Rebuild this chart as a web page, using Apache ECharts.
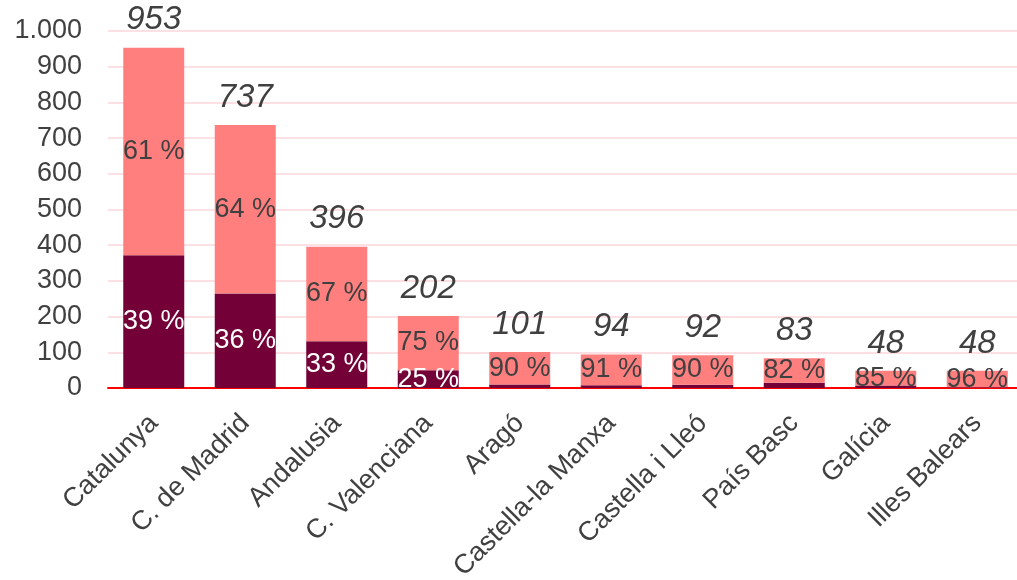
<!DOCTYPE html>
<html>
<head>
<meta charset="utf-8">
<script src="https://cdn.jsdelivr.net/npm/echarts@6/dist/echarts.min.js"></script>
<style>
  html, body { margin: 0; padding: 0; background: #fff; }
  #chart { width: 1017px; height: 580px; }
</style>
</head>
<body>
<div id="chart"></div>
<script>
// comunitats
const regions = ["Catalunya", "C. de Madrid", "Andalusia", "C. Valenciana", "Aragó",
  "Castella-la Manxa", "Castella i Lleó", "País Basc", "Galícia", "Illes Balears"];
const totals = [953, 737, 396, 202, 101, 94, 92, 83, 48, 48];
// part fosca (a baix) i part clara (a dalt)
const darkValues = [372, 265, 131, 50, 10, 8, 9, 15, 7, 2];
const lightValues = [581, 472, 265, 152, 91, 86, 83, 68, 41, 46];
const darkPct = [39, 36, 33, 25, 10, 9, 10, 18, 15, 4];
const lightPct = [61, 64, 67, 75, 90, 91, 90, 82, 85, 96];
const yTicks = [0, 100, 200, 300, 400, 500, 600, 700, 800, 900, 1000];

const chart = echarts.init(document.getElementById("chart"));
const font = "Liberation Sans, Arial, Helvetica, sans-serif";

const option = {
  animation: false,
  textStyle: { fontFamily: font },
  grid: { left: 108, top: 31, width: 915, height: 357, outerBoundsMode: "none", containLabel: false },
  xAxis: {
    type: "category",
    data: regions,
    axisLine: { lineStyle: { color: "#ff0000", width: 2 } },
    axisTick: { show: false },
    axisLabel: { rotate: 45, fontSize: 27, color: "#404040", margin: 31, interval: 0 },
  },
  yAxis: {
    type: "value",
    min: yTicks[0],
    max: yTicks[yTicks.length - 1],
    interval: 100,
    axisLine: { show: false },
    axisTick: { show: false },
    splitLine: { lineStyle: { color: "#fde0e4", width: 2 } },
    axisLabel: {
      fontSize: 27,
      color: "#404040",
      margin: 26,
      formatter: (v) => v.toLocaleString("de-DE"),
    },
  },
  series: [
    {
      // totals (invisible bar, label above)
      type: "bar",
      data: totals,
      barWidth: 61,
      barGap: "-100%",
      z: 1,
      itemStyle: { color: "rgba(0,0,0,0)" },
      label: {
        show: true,
        position: "top",
        distance: 11,
        fontSize: 33,
        fontStyle: "italic",
        color: "#404040",
      },
    },
    {
      type: "bar",
      stack: "total",
      barWidth: 61,
      z: 2,
      data: darkValues.map((v, i) => ({
        value: v,
        label: { show: i < 4 },
      })),
      itemStyle: { color: "#730037" },
      label: {
        position: "inside",
        fontSize: 27,
        color: "#ffffff",
        formatter: (p) => darkPct[p.dataIndex] + " %",
      },
    },
    {
      type: "bar",
      stack: "total",
      barWidth: 61,
      z: 2,
      data: lightValues,
      itemStyle: { color: "#ff7f7f" },
      label: {
        show: true,
        position: "inside",
        fontSize: 27,
        color: "#404040",
        formatter: (p) => lightPct[p.dataIndex] + " %",
      },
    },
  ],
};
chart.setOption(option);
</script>
</body>
</html>
